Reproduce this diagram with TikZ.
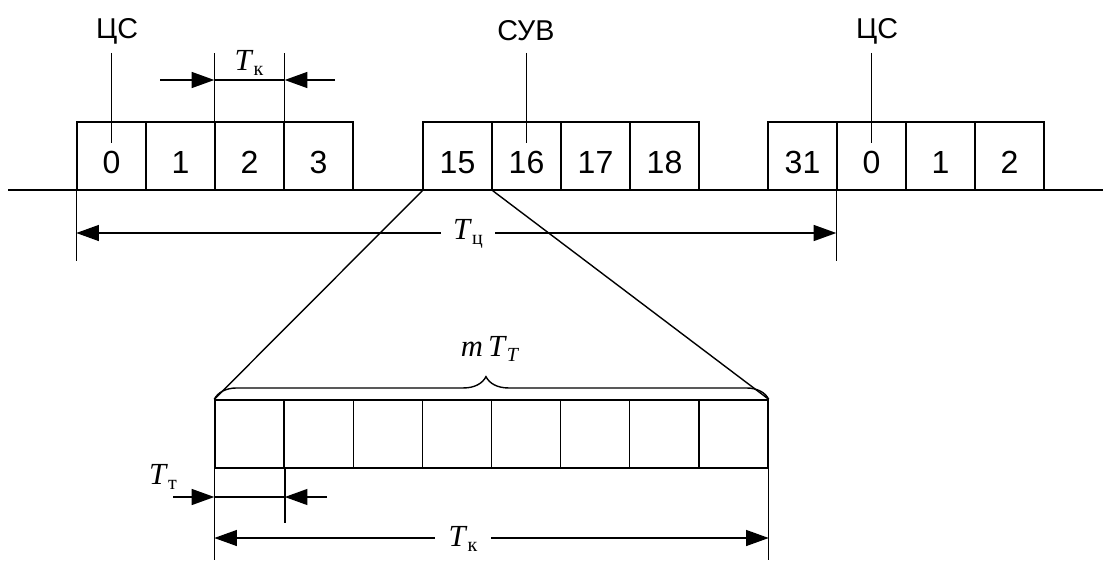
\documentclass[tikz,border=0pt]{standalone}
\usepackage{fontspec}
\setmainfont{Liberation Serif}
\newfontfamily\arialf{Liberation Sans}
\usetikzlibrary{arrows.meta,decorations.pathreplacing}
\newcommand{\numfnt}{\arialf\fontsize{24}{28}\selectfont}
\newcommand{\lblfnt}{\arialf\fontsize{21.5}{25}\selectfont}
\newcommand{\tfnt}{\fontsize{23}{27}\selectfont}
\newcommand{\Tsub}[1]{\textit{T}\raisebox{-0.35ex}{\fontsize{15}{15}\selectfont #1}}
\tikzset{
  ln/.style={line width=1.05pt},
  cell/.style={draw, line width=1.05pt, minimum width=51.75pt, minimum height=51pt, inner sep=0pt, text height=26pt, text depth=0pt, font=\numfnt},
  lcell/.style={draw, line width=1.05pt, minimum width=51.84pt, minimum height=51pt, inner sep=0pt},
  arr/.style={line width=1.05pt, -{Triangle[length=17pt,width=12pt]}},
  darr/.style={line width=1.05pt, {Triangle[length=17pt,width=12pt]}-{Triangle[length=17pt,width=12pt]}},
  lbl/.style={font=\lblfnt, inner sep=0pt},
  tlab/.style={font=\tfnt, inner sep=1pt}
}
\begin{document}
\begin{tikzpicture}[x=0.75pt,y=-0.75pt]
\path[use as bounding box] (0,0) rectangle (1105,560);
% top cells
\foreach \n/\x/\t in {a0/111.5/0, a1/180.5/1, a2/249.5/2, a3/318.5/3, b15/457.5/15, b16/526.5/16, b17/595.5/17, b18/664.5/18, c31/802.5/31, c0/871.5/0, c1/940.5/1, c2/1009.5/2}
  \node[cell] (\n) at (\x,156) {\t};
% lower cells
\foreach \i in {1,...,8}
  \node[lcell] (l\i) at ({215+69.125*(\i-0.5)},434) {};
% baseline
\coordinate (bl) at (8,190);
\coordinate (br) at (1103,190);
\draw[ln] (bl) -- (br);
% labels with pointers
\node[lbl] (cs1) at (117,31) {ЦС};
\node[lbl] (suv) at (526,31) {СУВ};
\node[lbl] (cs2) at (877,31) {ЦС};
\draw[ln] (a0.center |- 0,53) -- (a0.center |- 0,143);
\draw[ln] (b16.center |- 0,53) -- (b16.center |- 0,143);
\draw[ln] (c0.center |- 0,53) -- (c0.center |- 0,143);
% top T_k
\draw[ln] (a2.north west) -- (a2.north west |- 0,53);
\draw[ln] (a2.north east) -- (a2.north east |- 0,53);
\draw[arr] (160,80) -- (a2.west |- 0,80);
\draw[ln] (a2.west |- 0,80) -- (a2.east |- 0,80);
\draw[arr] (335,80) -- (a2.east |- 0,80);
\node[tlab] (tk1) at (249,63) {\Tsub{к}};
% T_c
\draw[ln] (a0.south west) -- (a0.south west |- 0,261);
\draw[ln] (c0.south west) -- (c0.south west |- 0,261);
\draw[darr] (a0.south west |- 0,233) -- (c0.south west |- 0,233);
\node[tlab, fill=white, inner xsep=9pt] (tc) at (468,234) {\Tsub{ц}};
% zoom lines
\draw[ln] (b15.south west) -- (l1.north west);
\draw[ln] (b15.south east) -- (l8.north east);
% brace
\draw[ln, decorate, decoration={brace, amplitude=17pt, aspect=0.49}] (l1.north west) -- (l8.north east);
\node[tlab] (mt) at (490,349) {\textit{m}\,\textit{T}\raisebox{-0.35ex}{\fontsize{15}{15}\selectfont\textit{T}}};
% lower dimensions
\draw[ln] (l1.south west) -- (l1.south west |- 0,560);
\draw[ln] (l8.south east) -- (l8.south east |- 0,560);
\draw[ln] (l1.south east) -- (l1.south east |- 0,523);
\draw[arr] (173,497) -- (l1.west |- 0,497);
\draw[ln] (l1.west |- 0,497) -- (l1.east |- 0,497);
\draw[arr] (327,497) -- (l1.east |- 0,497);
\node[tlab] (tt) at (163,477) {\Tsub{т}};
\draw[darr] (l1.west |- 0,538) -- (l8.east |- 0,538);
\node[tlab, fill=white, inner xsep=10pt] (tk2) at (463,539) {\Tsub{к}};
\end{tikzpicture}
\end{document}
